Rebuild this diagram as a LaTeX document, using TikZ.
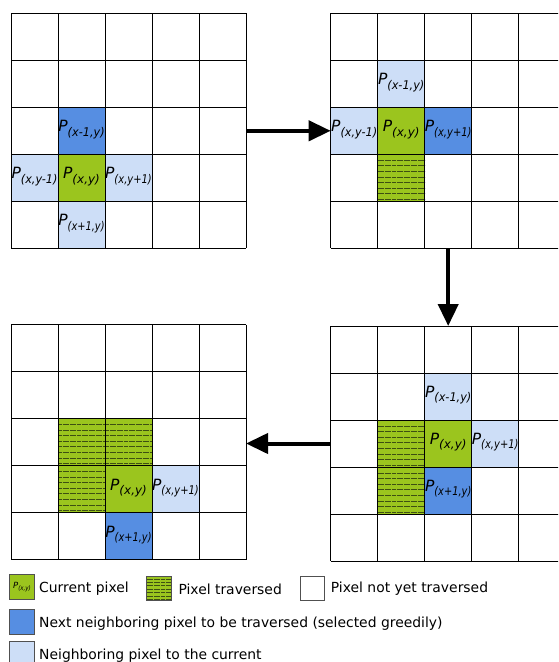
\documentclass[tikz,border=0pt]{standalone}
\usepackage{fontspec}
\setmainfont{DejaVu Sans}
\usepackage{graphicx}
\usetikzlibrary{arrows.meta}
\definecolor{cur}{RGB}{155,197,30}
\definecolor{nxt}{RGB}{86,142,226}
\definecolor{nbr}{RGB}{205,222,247}
\definecolor{hcol}{RGB}{62,80,18}
\definecolor{legdraw}{RGB}{80,80,80}
\newcommand{\plab}[2][1]{\fontsize{15.5}{15.5}\selectfont\itshape P\raisebox{-4.4pt}{\fontsize{12}{12}\selectfont\scalebox{#1}[1]{#2}}}
\newcommand{\cellfill}[3]{\fill[#1] ({47*#2},{47*#3}) rectangle ++(47,47);}
\newcommand{\hatchcell}[2]{\fill[cur] ({47*#1},{47*#2}) rectangle ++(47,47);
  \foreach \i in {0,...,7}{\draw[hline] ({47*#1},{47*#2+6+5.6*\i}) -- ++(47,0);}}
\newcommand{\gridlines}{\foreach \k in {0,...,5}{\draw[gline] ({47*\k},0) -- ({47*\k},235); \draw[gline] (0,{47*\k}) -- (235,{47*\k});}}
\tikzset{
  gline/.style={black, line width=1pt},
  hline/.style={hcol, line width=1pt, dash pattern=on 2pt off 0.35pt},
  lab/.style={anchor=base, inner sep=0pt},
  gframe/.style={draw=none, minimum width=235pt, minimum height=235pt, inner sep=0pt, outer sep=0pt, anchor=north west},
  flow/.style={line width=4pt, -{Triangle[length=22pt,width=20pt]}},
  legbox/.style={draw=legdraw, line width=1pt},
  legtext/.style={anchor=base west, inner sep=0pt, font=\fontsize{13.9}{16}\selectfont},
}
\begin{document}
\begin{tikzpicture}[x=1pt,y=-1pt]
\useasboundingbox (0,0) rectangle (558,662);
\clip (0,0) rectangle (558,662);
\fill[white] (0,0) rectangle (558,662);
% ---------- grid 1 ----------
\node[gframe] (g1) at (11,13.3) {};
\begin{scope}[shift={(11,13.3)}]
  \cellfill{nxt}{1}{2}
  \cellfill{cur}{1}{3}
  \cellfill{nbr}{0}{3}
  \cellfill{nbr}{2}{3}
  \cellfill{nbr}{1}{4}
  \gridlines
  \node[lab] (g1a) at (70.5,{47*2+24.5}) {\plab[0.94]{(x-1,y)}};
  \node[lab] (g1b) at (23.5,{47*3+24.5}) {\plab[0.94]{(x,y-1)}};
  \node[lab] (g1c) at (70.5,{47*3+24.5}) {\plab{(x,y)}};
  \node[lab] (g1d) at (117.5,{47*3+24.5}) {\plab[0.83]{(x,y+1)}};
  \node[lab] (g1e) at (70.5,{47*4+24.5}) {\plab[0.82]{(x+1,y)}};
\end{scope}
% ---------- grid 2 ----------
\node[gframe] (g2) at (330.7,13.3) {};
\begin{scope}[shift={(330.7,13.3)}]
  \cellfill{nbr}{1}{1}
  \cellfill{nbr}{0}{2}
  \cellfill{cur}{1}{2}
  \cellfill{nxt}{2}{2}
  \hatchcell{1}{3}
  \gridlines
  \node[lab] (g2a) at (70.5,{47*1+24.5}) {\plab[0.94]{(x-1,y)}};
  \node[lab] (g2b) at (23.5,{47*2+24.5}) {\plab[0.94]{(x,y-1)}};
  \node[lab] (g2c) at (70.5,{47*2+24.5}) {\plab{(x,y)}};
  \node[lab] (g2d) at (117.5,{47*2+24.5}) {\plab[0.83]{(x,y+1)}};
\end{scope}
% ---------- grid 4 (bottom right) ----------
\node[gframe] (g4) at (330.7,326) {};
\begin{scope}[shift={(330.7,326)}]
  \cellfill{nbr}{2}{1}
  \hatchcell{1}{2}
  \hatchcell{1}{3}
  \cellfill{cur}{2}{2}
  \cellfill{nbr}{3}{2}
  \cellfill{nxt}{2}{3}
  \gridlines
  \node[lab] (g4a) at (117.5,{47*1+24.5}) {\plab[0.94]{(x-1,y)}};
  \node[lab] (g4c) at (117.5,{47*2+24.5}) {\plab{(x,y)}};
  \node[lab] (g4d) at (164.5,{47*2+24.5}) {\plab[0.83]{(x,y+1)}};
  \node[lab] (g4e) at (117.5,{47*3+24.5}) {\plab[0.82]{(x+1,y)}};
\end{scope}
% ---------- grid 3 (bottom left) ----------
\node[gframe] (g3) at (11,324.5) {};
\begin{scope}[shift={(11,324.5)}]
  \hatchcell{1}{2}
  \hatchcell{2}{2}
  \hatchcell{1}{3}
  \cellfill{cur}{2}{3}
  \cellfill{nbr}{3}{3}
  \cellfill{nxt}{2}{4}
  \gridlines
  \node[lab] (g3c) at (117.5,{47*3+24.5}) {\plab{(x,y)}};
  \node[lab] (g3d) at (164.5,{47*3+24.5}) {\plab[0.83]{(x,y+1)}};
  \node[lab] (g3e) at (117.5,{47*4+24.5}) {\plab[0.82]{(x+1,y)}};
\end{scope}
% ---------- flow arrows ----------
\draw[flow] (g1.east) -- (g1.east -| g2.west);
\draw[flow] (g2.south) -- (g2.south |- g4.north);
\draw[flow] (g4.west) -- (g4.west -| g3.east);
% ---------- legend ----------
\node[legbox, fill=cur, minimum width=25.4pt, minimum height=25pt, inner sep=0pt] (lcur) at (22,586.8)
  {\fontsize{8.5}{8.5}\selectfont\itshape P\raisebox{-2pt}{\fontsize{6.5}{6.5}\selectfont\scalebox{0.85}[1]{(x,y)}}};
\node[legtext] (tcur) at (39,592.3) {Current pixel};
\fill[cur] (146.7,576) rectangle (171.3,600.3);
\foreach \i in {0,...,6}{\draw[hline, line width=0.8pt] (146.7,{579+3.4*\i}) -- (171.3,{579+3.4*\i});}
\node[legbox, minimum width=24.6pt, minimum height=24.3pt, inner sep=0pt] (ltrav) at (159,588.15) {};
\node[legtext] (ttrav) at (178.3,594.3) {Pixel traversed};
\node[legbox, fill=white, minimum width=24.3pt, minimum height=24.3pt, inner sep=0pt] (lnot) at (312.15,588.15) {};
\node[legtext] (tnot) at (330.7,592.7) {Pixel not yet traversed};
\node[legbox, fill=nxt, minimum width=25.4pt, minimum height=25.4pt, inner sep=0pt] (lnxt) at (22,622) {};
\node[legtext] (tnxt) at (39,627) {Next neighboring pixel to be traversed (selected greedily)};
\node[legbox, fill=nbr, minimum width=25.4pt, minimum height=28pt, inner sep=0pt] (lnbr) at (22,655.7) {};
\node[legtext] (tnbr) at (39,659.3) {Neighboring pixel to the current};
\end{tikzpicture}
\end{document}
